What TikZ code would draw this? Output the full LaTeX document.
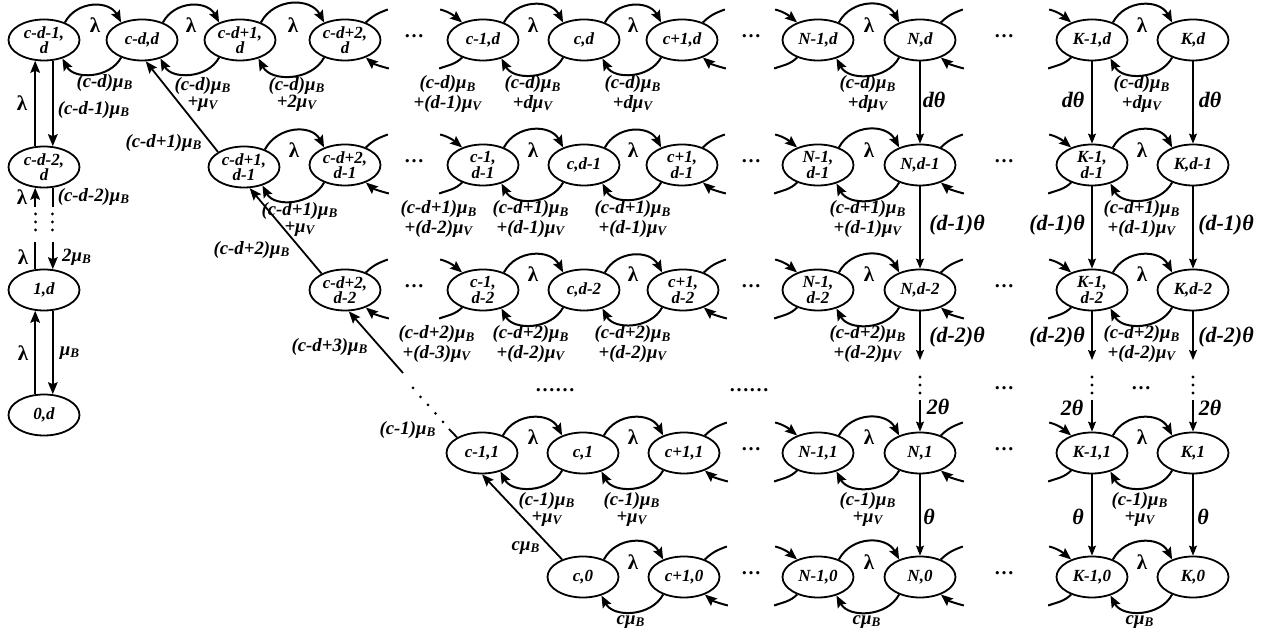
\documentclass[tikz,border=0pt]{standalone}
\usepackage{fontspec}
\setmainfont{Liberation Serif}
\usetikzlibrary{shapes.geometric,arrows.meta}
\newcommand\muB{μ\textsubscript{B}}
\newcommand\muV{μ\textsubscript{V}}
\newcommand\pairarcs[2]{%
  \draw[lw,ar] (#1.40) to[out=62,in=118,looseness=1.15] (#2.140);
  \draw[lw,ar] (#2.-140) to[out=-118,in=-62,looseness=1.05] (#1.-45);}
\newcommand\rstub[1]{%
  \coordinate (#1ro) at ([shift={(22,13)}]#1.40);
  \coordinate (#1ri) at ([shift={(23,-11)}]#1.-40);
  \draw[lw] (#1.40) to[out=45,in=200] (#1ro);
  \draw[lw,ar] (#1ri) to[out=165,in=-40] (#1.-40);}
\newcommand\lstub[1]{%
  \coordinate (#1li) at ([shift={(-22,13)}]#1.140);
  \coordinate (#1lo) at ([shift={(-23,-11)}]#1.-140);
  \draw[lw,ar] (#1li) to[out=-15,in=140] (#1.140);
  \draw[lw] (#1.-140) to[out=-135,in=20] (#1lo);}
\begin{document}
\begin{tikzpicture}[x=0.5pt,y=0.5pt,
  st/.style={draw,ellipse,line width=0.9pt,minimum width=35.5pt,minimum height=20.5pt,inner xsep=0pt,inner ysep=-1pt,align=center,font=\fontsize{8.5}{7.8}\selectfont\bfseries\itshape},
  lab/.style={align=center,inner sep=0pt,font=\fontsize{9.4}{8.5}\selectfont\bfseries\itshape},
  lam/.style={inner sep=0pt,font=\fontsize{10.5}{10.5}\selectfont\bfseries},
  th/.style={inner sep=0pt,font=\fontsize{11}{11}\selectfont\bfseries\itshape},
  dts/.style={inner sep=0pt,font=\fontsize{10}{10}\selectfont\bfseries},
  lw/.style={line width=1pt},
  thn/.style={line width=0.6pt},
  dg/.style={line width=0.9pt},
  ar/.style={-{Stealth[length=6pt,width=4.8pt,inset=1pt]}},
  ars/.style={-{Stealth[length=5pt,width=4pt,inset=0.8pt]}}]
\useasboundingbox (0,0) rectangle (1271,-635);
% ---------- left column
\node[st] (L1) at (44,-40) {c-d-1,\\d};
\node[st] (L2) at (44,-167) {c-d-2,\\d};
\node[st] (L3) at (44,-290) {1,d};
\node[st] (L4) at (44,-415) {0,d};
% ---------- row d
\node[st] (A0) at (142,-40) {c-d,d};
\node[st] (A1) at (240,-40) {c-d+1,\\d};
\node[st] (A2) at (345,-40) {c-d+2,\\d};
\node[st] (A3) at (483,-40) {c-1,d};
\node[st] (A4) at (584,-40) {c,d};
\node[st] (A5) at (682,-40) {c+1,d};
\node[st] (A6) at (818,-40) {N-1,d};
\node[st] (A7) at (920,-40) {N,d};
\node[st] (A8) at (1092,-40) {K-1,d};
\node[st] (A9) at (1193,-40) {K,d};
% ---------- row d-1
\node[st] (B1) at (244,-167) {c-d+1,\\d-1};
\node[st] (B2) at (345,-165) {c-d+2,\\d-1};
\node[st] (B3) at (483,-165) {c-1,\\d-1};
\node[st] (B4) at (584,-165) {c,d-1};
\node[st] (B5) at (682,-165) {c+1,\\d-1};
\node[st] (B6) at (818,-165) {N-1,\\d-1};
\node[st] (B7) at (920,-165) {N,d-1};
\node[st] (B8) at (1092,-165) {K-1,\\d-1};
\node[st] (B9) at (1193,-165) {K,d-1};
% ---------- row d-2
\node[st] (C2) at (345,-290) {c-d+2,\\d-2};
\node[st] (C3) at (483,-290) {c-1,\\d-2};
\node[st] (C4) at (584,-290) {c,d-2};
\node[st] (C5) at (683,-290) {c+1,\\d-2};
\node[st] (C6) at (818,-290) {N-1,\\d-2};
\node[st] (C7) at (920,-290) {N,d-2};
\node[st] (C8) at (1092,-290) {K-1,\\d-2};
\node[st] (C9) at (1193,-290) {K,d-2};
% ---------- row 1
\node[st] (D3) at (482,-453) {c-1,1};
\node[st] (D4) at (583,-453) {c,1};
\node[st] (D5) at (684,-453) {c+1,1};
\node[st] (D6) at (818,-453) {N-1,1};
\node[st] (D7) at (920,-453) {N,1};
\node[st] (D8) at (1092,-453) {K-1,1};
\node[st] (D9) at (1193,-453) {K,1};
% ---------- row 0
\node[st] (E4) at (583,-577) {c,0};
\node[st] (E5) at (684,-577) {c+1,0};
\node[st] (E6) at (818,-577) {N-1,0};
\node[st] (E7) at (920,-577) {N,0};
\node[st] (E8) at (1092,-577) {K-1,0};
\node[st] (E9) at (1193,-577) {K,0};
% ---------- horizontal arcs
\pairarcs{L1}{A0}\pairarcs{A0}{A1}\pairarcs{A1}{A2}\pairarcs{A3}{A4}\pairarcs{A4}{A5}\pairarcs{A6}{A7}\pairarcs{A8}{A9}
\pairarcs{B1}{B2}\pairarcs{B3}{B4}\pairarcs{B4}{B5}\pairarcs{B6}{B7}\pairarcs{B8}{B9}
\pairarcs{C3}{C4}\pairarcs{C4}{C5}\pairarcs{C6}{C7}\pairarcs{C8}{C9}
\pairarcs{D3}{D4}\pairarcs{D4}{D5}\pairarcs{D6}{D7}\pairarcs{D8}{D9}
\pairarcs{E4}{E5}\pairarcs{E6}{E7}\pairarcs{E8}{E9}
% ---------- stubs
\rstub{A2}\rstub{A5}\rstub{A7}\rstub{B2}\rstub{B5}\rstub{B7}\rstub{C2}\rstub{C5}\rstub{C7}\rstub{D5}\rstub{D7}\rstub{E5}\rstub{E7}
\lstub{A3}\lstub{A6}\lstub{A8}\lstub{B3}\lstub{B6}\lstub{B8}\lstub{C3}\lstub{C6}\lstub{C8}\lstub{D6}\lstub{D8}\lstub{E6}\lstub{E8}
% ---------- lambda labels
\foreach \x in {95,191,293,533,633,869,1142} \node[lam] at (\x,-25) {λ};
\foreach \x in {294,533,633,869,1142} \node[lam] at (\x,-150) {λ};
\foreach \x in {533,633,869,1142} \node[lam] at (\x,-274) {λ};
\foreach \x in {533,633,869,1142} \node[lam] at (\x,-437) {λ};
\foreach \x in {633,869,1142} \node[lam] at (\x,-562) {λ};
% ---------- lower labels row d
\node[lab] at (105,-83) {(c-d)\muB};
\node[lab] at (203,-94) {(c-d)\muB\\+\muV};
\node[lab] at (297,-94) {(c-d)\muB\\+2\muV};
\node[lab] at (448,-94) {(c-d)\muB\\+(d-1)\muV};
\foreach \x in {533,633,868,1142} \node[lab] at (\x,-94) {(c-d)\muB\\+d\muV};
% row d-1
\node[lab] at (300,-219) {(c-d+1)\muB\\+\muV};
\node[lab] at (439,-219) {(c-d+1)\muB\\+(d-2)\muV};
\foreach \x in {531,633,868,1142} \node[lab] at (\x,-219) {(c-d+1)\muB\\+(d-1)\muV};
% row d-2
\node[lab] at (437,-344) {(c-d+2)\muB\\+(d-3)\muV};
\foreach \x in {531,633,868,1142} \node[lab] at (\x,-344) {(c-d+2)\muB\\+(d-2)\muV};
% row 1
\foreach \x in {547,632,868,1140} \node[lab] at (\x,-509) {(c-1)\muB\\+\muV};
% row 0
\foreach \x in {631,867,1140} \node[lab] at (\x,-622) {c\muB};
% ---------- dots between nodes
\foreach \x in {414,751,1004} \foreach \y in {-36,-161,-286} \node[dts] at (\x,\y) {…};
\foreach \x in {751,1004} \foreach \y in {-449,-573} \node[dts] at (\x,\y) {…};
\node[dts] at (555,-390) {……};
\node[dts] at (749,-390) {……};
\node[dts] at (1004,-388) {…};
\node[dts] at (1141,-388) {…};
\foreach \x in {920,1092,1193} \foreach \y in {377,385,393} \fill (\x,-\y) circle (1.6);
% ---------- left column verticals
\draw[lw,ar] (L2.113) -- (L1.-113);
\draw[lw,ar] (L1.-67) -- (L2.67);
\coordinate (h1) at (0,-207);
\coordinate (h2) at (0,-242);
\draw[lw,ar] (L2.-113 |- h1) -- (L2.-113);
\draw[lw] (L2.-67) -- (L2.-67 |- h1);
\draw[lw] (L3.113) -- (L3.113 |- h2);
\draw[lw,ar] (L3.67 |- h2) -- (L3.67);
\foreach \y in {214,222,230} {\fill (35.6,-\y) circle (1.6); \fill (52.4,-\y) circle (1.6);}
\draw[lw,ar] (L4.113) -- (L3.-113);
\draw[lw,ar] (L3.-67) -- (L4.67);
\node[lam] at (22,-103) {λ};
\node[lab] at (94,-110) {(c-d-1)\muB};
\node[lam] at (22,-197) {λ};
\node[lab] at (94,-197) {(c-d-2)\muB};
\node[lam] at (23,-257) {λ};
\node[lab] at (77,-257) {2\muB};
\node[lam] at (23,-353) {λ};
\node[lab] at (70,-353) {\muB};
% ---------- diagonals
\draw[dg,ar] (B1.150) -- (A0.-80);
\node[lab] at (164,-143) {(c-d+1)\muB};
\draw[dg,ar] (C2.145) -- (B1.-75);
\node[lab] at (252,-250) {(c-d+2)\muB};
\coordinate (g1) at (403,-373);
\draw[dg,ar] (g1) -- (C2.-80);
\node[lab] at (330,-347) {(c-d+3)\muB};
\foreach \p in {(413,-388),(420.5,-397),(428,-405),(435.5,-413.5),(443,-422)} \fill \p circle (1.5);
\coordinate (g2) at (449,-429);
\draw[dg] (g2) -- (D3.148);
\node[lab] at (408,-430) {(c-1)\muB};
\draw[dg,ar] (E4.140) -- (D3.-90);
\node[lab] at (526,-548) {c\muB};
% ---------- theta columns
\coordinate (n1) at (920,-360); \coordinate (n2) at (920,-400);
\coordinate (k1) at (1092,-360); \coordinate (k2) at (1092,-400);
\coordinate (m1) at (1193,-360); \coordinate (m2) at (1193,-400);
\draw[thn,ars] (A7) -- (B7);
\draw[thn,ars] (B7) -- (C7);
\draw[thn,ars] (C7) -- (n1);
\draw[thn,ars] (n2) -- (D7);
\draw[thn,ars] (D7) -- (E7);
\draw[thn,ars] (A8) -- (B8);
\draw[thn,ars] (B8) -- (C8);
\draw[thn,ars] (C8) -- (k1);
\draw[thn,ars] (k2) -- (D8);
\draw[thn,ars] (D8) -- (E8);
\draw[thn,ars] (A9) -- (B9);
\draw[thn,ars] (B9) -- (C9);
\draw[thn,ars] (C9) -- (m1);
\draw[thn,ars] (m2) -- (D9);
\draw[thn,ars] (D9) -- (E9);
\node[th] at (934,-100) {dθ};
\node[th] at (957,-225) {(d-1)θ};
\node[th] at (957,-337) {(d-2)θ};
\node[th] at (938,-407) {2θ};
\node[th] at (929,-517) {θ};
\node[th] at (1073,-100) {dθ};
\node[th] at (1057,-225) {(d-1)θ};
\node[th] at (1057,-337) {(d-2)θ};
\node[th] at (1072,-408) {2θ};
\node[th] at (1078,-517) {θ};
\node[th] at (1210,-100) {dθ};
\node[th] at (1226,-225) {(d-1)θ};
\node[th] at (1226,-337) {(d-2)θ};
\node[th] at (1210,-408) {2θ};
\node[th] at (1203,-517) {θ};
\end{tikzpicture}
\end{document}
